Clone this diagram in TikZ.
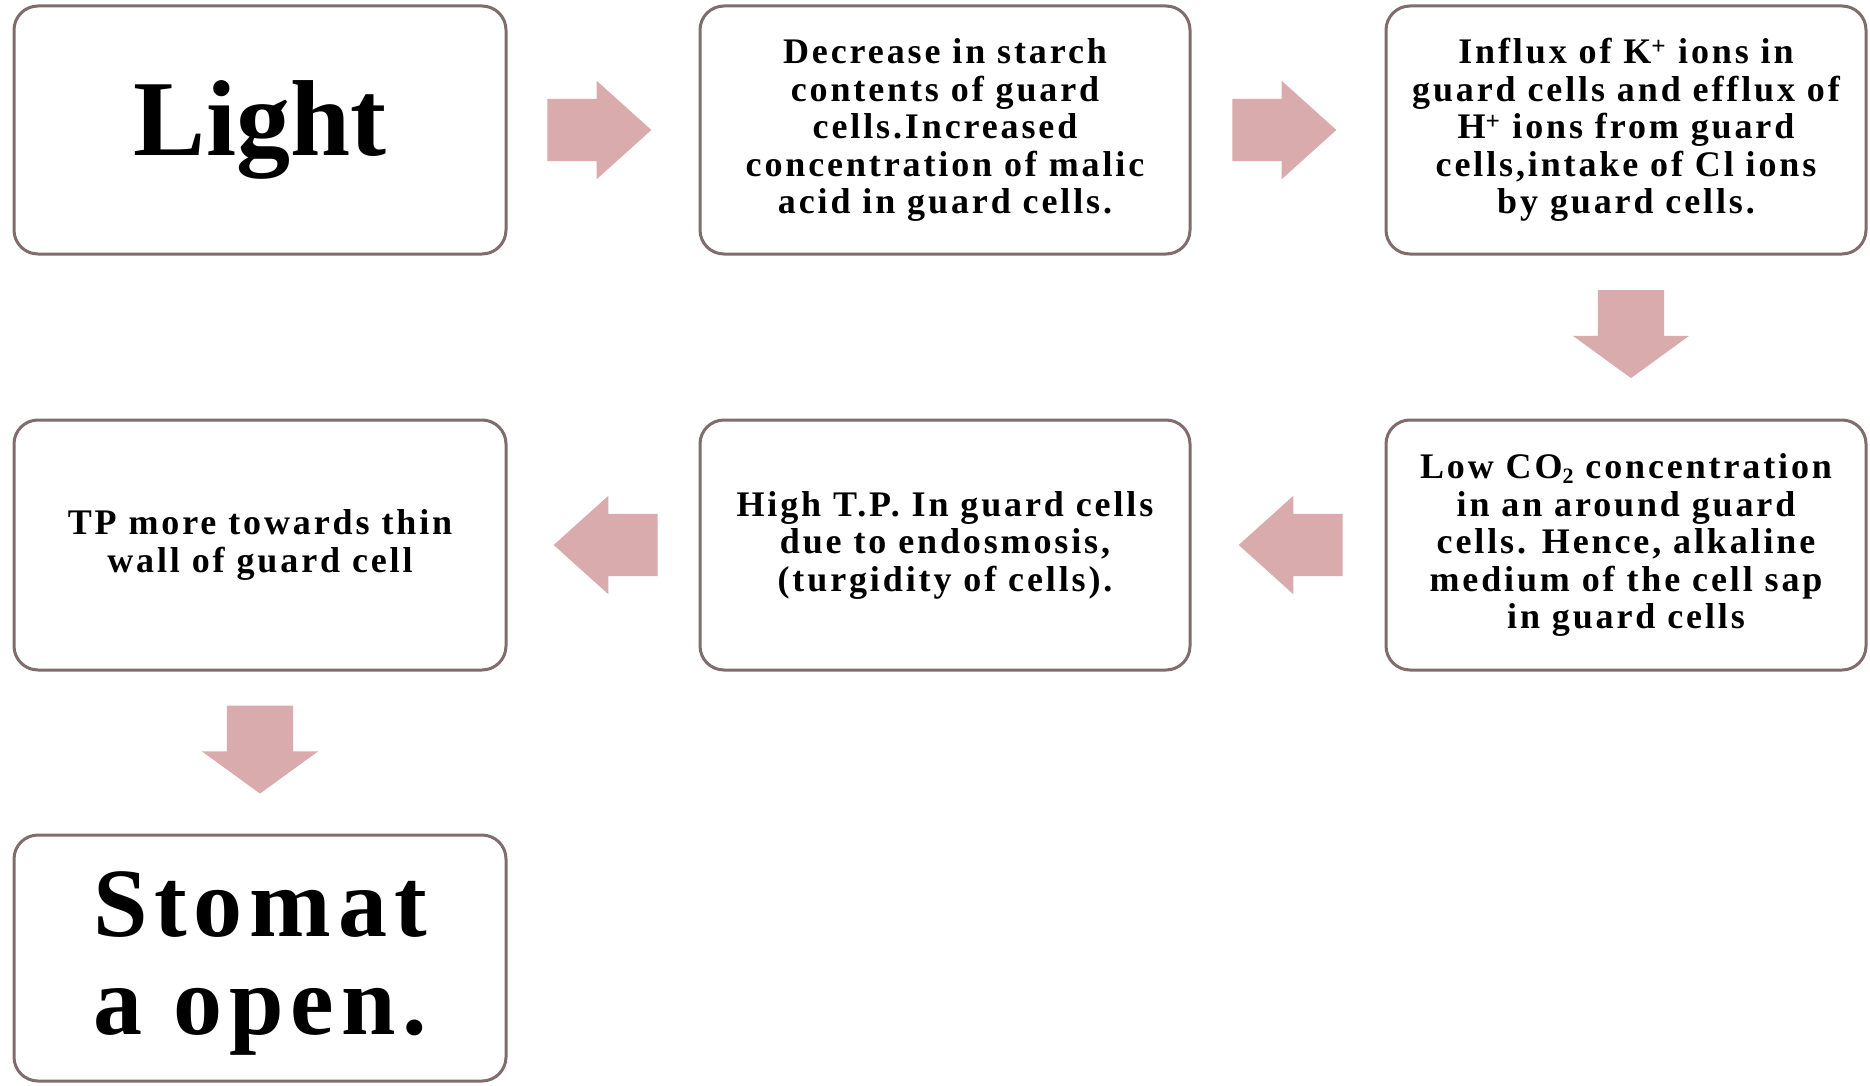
\documentclass[tikz,border=0pt]{standalone}
\usepackage{fontspec}
\setmainfont{Liberation Serif}
\newfontfamily\spaced[LetterSpace=8]{Liberation Serif}
\newfontfamily\bigspaced[LetterSpace=7]{Liberation Serif}
\usetikzlibrary{shapes.arrows,calc}
\definecolor{boxline}{RGB}{128,108,108}
\definecolor{arrowfill}{RGB}{217,171,173}
\tikzset{
  box/.style={draw=boxline, line width=3pt, rounded corners=24pt, fill=white,
    minimum height=248pt, align=center, inner sep=0pt},
  bodytext/.style={font=\spaced\bfseries\fontsize{36}{37.5}\selectfont},
  bigtext/.style={font=\bfseries\fontsize{108}{96}\selectfont},
  stomtext/.style={font=\bigspaced\bfseries\fontsize{98}{98}\selectfont},
  harrow/.style={single arrow, fill=arrowfill, draw=none,
    inner xsep=0pt, inner ysep=31pt, minimum width=98pt,
    single arrow head extend=18pt, minimum height=104pt,
    single arrow tip angle=84},
  varrow/.style={single arrow, fill=arrowfill, draw=none,
    inner ysep=0pt, inner xsep=33pt, minimum width=116pt,
    single arrow head extend=25pt, minimum height=88pt,
    single arrow tip angle=108, shape border rotate=270},
}
\newcommand{\subtwo}{\raisebox{-5pt}[0pt][0pt]{\fontsize{22}{22}\selectfont 2}}
\begin{document}
\begin{tikzpicture}[x=1pt,y=-1pt]
\fill[white] (0,0) rectangle (1870,1086);
\useasboundingbox (0,0) rectangle (1870,1086);

\node[box, minimum width=492pt, bigtext] (b1) at (260,130) {Light};
\node[box, minimum width=490pt, bodytext] (b2) at (945,130)
  {Decrease in starch\\contents of guard\\cells.Increased\\concentration of malic\\acid in guard cells.};
\node[box, minimum width=480pt, bodytext] (b3) at (1626,130)
  {Influx of K\textsuperscript{+} ions in\\guard cells and efflux of\\H\textsuperscript{+} ions from guard\\cells,intake of Cl ions\\by guard cells.};
\node[box, minimum width=480pt, minimum height=250pt, bodytext] (b4) at (1626,545)
  {Low CO\subtwo{} concentration\\in an around guard\\cells. Hence, alkaline\\medium of the cell sap\\in guard cells};
\node[box, minimum width=490pt, minimum height=250pt, bodytext] (b5) at (945,545)
  {High T.P. In guard cells\\due to endosmosis,\\(turgidity of cells).};
\node[box, minimum width=492pt, minimum height=250pt, bodytext] (b6) at (260,545)
  {TP more towards thin\\wall of guard cell};
\node[box, minimum width=492pt, minimum height=246pt, stomtext] (b7) at (260,958)
  {\raisebox{-8pt}[\height][\depth]{\begin{tabular}{@{}c@{}}Stomat\\a open.\end{tabular}}};

\node[harrow, xshift=-21pt] (a1) at ($(b1.east)!0.5!(b2.west)$) {};
\node[harrow, xshift=-21pt] (a2) at ($(b2.east)!0.5!(b3.west)$) {};
\node[varrow, xshift=5pt, yshift=15pt] (a3) at ($(b3.south)!0.5!(b4.north)$) {};
\node[harrow, shape border rotate=180, xshift=20pt] (a4) at ($(b4.west)!0.5!(b5.east)$) {};
\node[harrow, shape border rotate=180, xshift=20pt] (a5) at ($(b5.west)!0.5!(b6.east)$) {};
\node[varrow, yshift=15pt] (a6) at ($(b6.south)!0.5!(b7.north)$) {};
\end{tikzpicture}
\end{document}
